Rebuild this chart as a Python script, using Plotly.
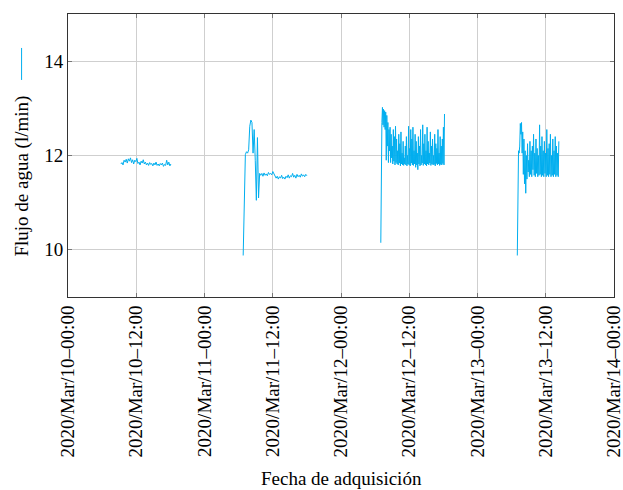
import numpy as np
import pandas as pd
import plotly.graph_objects as go

# ---- data ----
base = pd.Timestamp("2020-03-10 00:00")

# segment start/end (hours after 2020-03-10 00:00)
seg_hours = [(9.3, 18.1), (30.8, 42.0), (55.0, 66.2), (79.0, 86.3)]

seg1 = [11.82, 11.85, 11.80, 11.90, 11.86, 11.92, 11.84, 11.93, 11.88, 11.95, 11.85, 11.91,
        11.82, 11.90, 11.87, 11.94, 11.83, 11.86, 11.80, 11.88, 11.84, 11.91, 11.82, 11.86,
        11.80, 11.84, 11.79, 11.85, 11.81, 11.83, 11.78, 11.84, 11.80, 11.86, 11.79, 11.82,
        11.78, 11.83, 11.80, 11.84, 11.77, 11.81, 11.79, 11.90, 11.80, 11.86, 11.78, 11.82]

seg2 = [9.88, 11.42, 12.02, 12.08, 12.05, 12.12, 12.62, 12.75, 12.70, 12.05, 12.55, 11.90,
        11.05, 12.38, 11.10, 11.62,
        11.58, 11.62, 11.56, 11.63, 11.58, 11.61, 11.57, 11.64, 11.60, 11.62, 11.59, 11.66,
        11.61, 11.57, 11.52, 11.56, 11.50, 11.55, 11.52, 11.58, 11.51, 11.54, 11.50, 11.56,
        11.53, 11.59, 11.52, 11.57, 11.55, 11.62, 11.54, 11.58, 11.52, 11.60, 11.55, 11.58,
        11.54, 11.61, 11.56, 11.59, 11.55, 11.60, 11.57]

seg3 = [10.15, 12.62, 12.70, 13.02, 12.65, 12.98, 12.60, 12.95, 12.55, 12.92, 11.90, 12.85,
        12.20, 12.70, 11.85, 12.55, 12.10, 12.60, 11.85, 12.45, 11.95, 12.20, 11.82, 12.55,
        11.88, 12.40, 11.80, 12.62, 11.85, 12.35, 11.82, 12.10, 11.80, 12.45, 11.84, 12.25,
        11.78, 12.50, 11.82, 12.05, 11.80, 12.30, 11.79, 11.95, 11.82, 12.20, 11.80, 12.40,
        11.78, 12.00, 11.82, 12.62, 11.80, 12.15, 11.78, 12.55, 11.84, 12.35, 11.80, 12.60,
        11.79, 12.10, 11.82, 12.45, 11.75, 12.30, 11.80, 12.05, 11.70, 12.40, 11.82, 12.20,
        11.78, 12.55, 11.80, 12.00, 11.84, 12.65, 11.79, 12.25, 11.82, 12.45, 11.80, 12.10,
        11.78, 12.60, 11.82, 12.30, 11.80, 12.05, 11.84, 12.50, 11.79, 12.20, 11.82, 12.35,
        11.80, 12.00, 11.81, 12.45, 11.78, 12.25, 11.83, 12.15, 11.80, 12.55, 11.82, 12.05,
        11.79, 12.40, 11.81, 12.20, 11.80, 12.35, 11.83, 12.60, 11.80, 12.88]

seg4 = [9.88, 11.40, 12.10, 12.05, 12.20, 12.68, 12.45, 12.70, 12.05, 12.50, 11.60, 12.35,
        11.40, 12.10, 11.20, 12.00, 11.50, 12.25, 11.65, 11.90, 11.55, 12.30, 11.60, 12.10,
        11.55, 12.20, 11.70, 12.45, 11.58, 12.05, 11.55, 12.35, 11.62, 12.15, 11.55, 12.00,
        11.58, 12.65, 11.60, 12.20, 11.55, 12.40, 11.58, 12.10, 11.55, 12.30, 11.62, 12.05,
        11.55, 12.55, 11.58, 12.15, 11.55, 12.25, 11.60, 12.45, 11.55, 12.00, 11.58, 12.35,
        11.55, 12.10, 11.60, 12.40, 11.55, 12.20, 11.58, 12.05, 11.55, 12.30]

segments = [seg1, seg2, seg3, seg4]

tick_hours = [0, 12, 24, 36, 48, 60, 72, 84, 96]
tick_text = ["2020/Mar/10\u201300:00", "2020/Mar/10\u201312:00", "2020/Mar/11\u201300:00",
             "2020/Mar/11\u201312:00", "2020/Mar/12\u201300:00", "2020/Mar/12\u201312:00",
             "2020/Mar/13\u201300:00", "2020/Mar/13\u201312:00", "2020/Mar/14\u201300:00"]
y_ticks = [10, 12, 14]

# ---- figure ----
COLOR = "#00AEEF"
FONT = "Liberation Serif"

fig = go.Figure()
for (h0, h1), vals in zip(seg_hours, segments):
    hrs = np.linspace(h0, h1, len(vals))
    times = base + pd.to_timedelta(hrs, unit="h")
    fig.add_trace(go.Scatter(x=times, y=vals, mode="lines",
                             line=dict(color=COLOR, width=1), showlegend=False))

tickvals = [base + pd.Timedelta(hours=h) for h in tick_hours]

fig.update_layout(
    width=623, height=490,
    margin=dict(l=68, r=9, t=14, b=193),
    paper_bgcolor="white", plot_bgcolor="white",
    font=dict(family=FONT, size=19, color="black"),
    xaxis=dict(
        range=[base, base + pd.Timedelta(hours=96)],
        tickvals=tickvals, ticktext=tick_text, tickangle=-90,
        ticklabeloverflow="allow",
        showgrid=True, gridcolor="#cfcfcf", gridwidth=1,
        showline=True, linecolor="#333333", linewidth=1, mirror="ticks",
        ticks="inside", ticklen=4, tickcolor="#777777",
        zeroline=False, automargin=False,
    ),
    yaxis=dict(
        range=[9, 15], tickvals=y_ticks,
        showgrid=True, gridcolor="#cfcfcf", gridwidth=1,
        showline=True, linecolor="#333333", linewidth=1, mirror="ticks",
        ticks="inside", ticklen=4, tickcolor="#777777",
        zeroline=False, automargin=False,
    ),
    annotations=[
        dict(text="Flujo de agua (l/min)", xref="paper", yref="paper",
             x=-0.085, y=0.4276, textangle=-90, showarrow=False,
             xanchor="center", yanchor="middle", font=dict(size=19)),
        dict(text="Fecha de adquisición", xref="paper", yref="paper",
             x=0.5, y=-0.640, showarrow=False,
             xanchor="center", yanchor="middle", font=dict(size=19)),
    ],
    shapes=[
        dict(type="line", xref="paper", yref="paper",
             x0=-0.085, x1=-0.085, y0=0.767, y1=0.88,
             line=dict(color=COLOR, width=1)),
    ],
)

fig.write_html("out.html")
